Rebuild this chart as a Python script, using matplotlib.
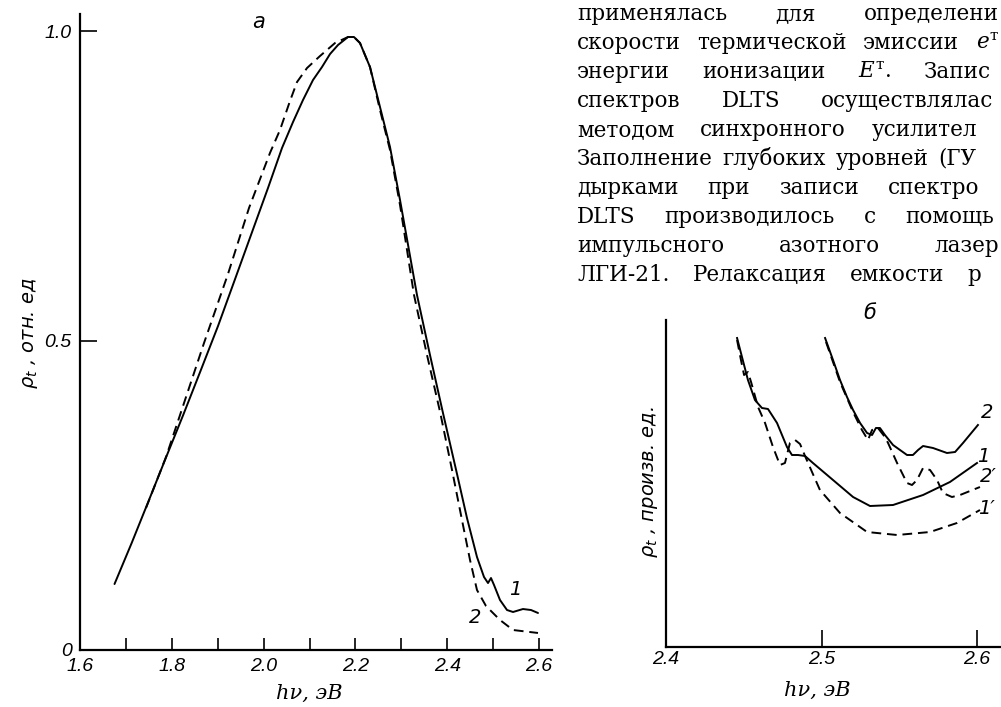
import matplotlib
matplotlib.use("Agg")
import matplotlib.pyplot as plt

W, H = 1001, 707

# ---------------- Panel a data ----------------
a_x1 = [1.6752, 1.7126, 1.7503, 1.7878, 1.8248, 1.8634, 1.9007, 1.9379, 1.9749, 2.0096,
        2.0401, 2.0641, 2.0858, 2.1076, 2.1272, 2.1447, 2.1621, 2.1839, 2.1969, 2.2100,
        2.2318, 2.2536, 2.2754, 2.2972, 2.3342, 2.3625, 2.3908, 2.4214, 2.4431, 2.4649,
        2.4802, 2.4889, 2.4954, 2.5020, 2.5150, 2.5303, 2.5434, 2.5651, 2.5826, 2.5978]
a_y1 = [0.1066, 0.1729, 0.2423, 0.3118, 0.3796, 0.4524, 0.5234, 0.5994, 0.6753, 0.7464,
        0.8110, 0.8530, 0.8885, 0.9208, 0.9418, 0.9628, 0.9774, 0.9903, 0.9903, 0.9806,
        0.9418, 0.8772, 0.8126, 0.7270, 0.5735, 0.4766, 0.3829, 0.2843, 0.2132, 0.1502,
        0.1179, 0.1082, 0.1163, 0.1050, 0.0808, 0.0646, 0.0614, 0.0662, 0.0646, 0.0598]

a_x2 = [1.7438, 1.7874, 1.8179, 1.8702, 1.9224, 1.9682, 2.0139, 2.0357, 2.0575, 2.0728,
        2.0946, 2.1229, 2.1556, 2.1839, 2.1969, 2.2100, 2.2318, 2.2536, 2.2754, 2.2972,
        2.3277, 2.3560, 2.3845, 2.4105, 2.4344, 2.4497, 2.4649, 2.4845, 2.5150, 2.5434,
        2.5978]
a_y2 = [0.2294, 0.3118, 0.3796, 0.4960, 0.6074, 0.7141, 0.8030, 0.8401, 0.8869, 0.9176,
        0.9402, 0.9596, 0.9806, 0.9903, 0.9903, 0.9806, 0.9418, 0.8724, 0.8078, 0.7189,
        0.5735, 0.4766, 0.3845, 0.2908, 0.2019, 0.1454, 0.0969, 0.0711, 0.0485, 0.0323,
        0.0275]

a_xticks = [1.6, 1.8, 2.0, 2.2, 2.4, 2.6]
a_xticklabels = ["1.6", "1.8", "2.0", "2.2", "2.4", "2.6"]
a_xminor = [1.7, 1.9, 2.1, 2.3, 2.5]
a_yticks = [0.0, 0.5, 1.0]
a_yticklabels = ["0", "0.5", "1.0"]

# ---------------- Panel b data ----------------
b_x1 = [2.4457, 2.4527, 2.4572, 2.4617, 2.4656, 2.4714, 2.4778, 2.4810, 2.4849, 2.4894,
        2.4945, 2.5074, 2.5203, 2.5312, 2.5460, 2.5653, 2.5826, 2.6000]
b_y1 = [3.09, 2.67, 2.47, 2.39, 2.38, 2.24, 2.00, 1.92, 1.92, 1.91,
        1.84, 1.67, 1.50, 1.41, 1.42, 1.52, 1.65, 1.84]

b_x1d = [2.4457, 2.4482, 2.4502, 2.4527, 2.4547, 2.4592, 2.4637, 2.4688, 2.4733, 2.4765,
         2.4797, 2.4830, 2.4862, 2.4894, 2.4939, 2.4990, 2.5119, 2.5293, 2.5486, 2.5698,
         2.5871, 2.6019]
b_y1d = [3.07, 2.87, 2.72, 2.75, 2.65, 2.40, 2.24, 2.00, 1.82, 1.84,
         2.04, 2.07, 2.03, 1.91, 1.75, 1.57, 1.34, 1.15, 1.12, 1.15,
         1.24, 1.37]

b_x2 = [2.5023, 2.5074, 2.5119, 2.5164, 2.5203, 2.5248, 2.5293, 2.5325, 2.5350, 2.5376,
        2.5408, 2.5460, 2.5550, 2.5588, 2.5621, 2.5653, 2.5717, 2.5807, 2.5859, 2.5910,
        2.6006]
b_y2 = [3.09, 2.87, 2.67, 2.50, 2.37, 2.24, 2.14, 2.12, 2.19, 2.19,
        2.12, 2.02, 1.92, 1.92, 1.97, 2.01, 1.99, 1.94, 1.95, 2.04,
        2.22]

b_x2d = [2.5029, 2.5119, 2.5203, 2.5260, 2.5299, 2.5325, 2.5363, 2.5408, 2.5428, 2.5486,
         2.5550, 2.5582, 2.5614, 2.5653, 2.5698, 2.5743, 2.5781, 2.5839, 2.5891, 2.6019]
b_y2d = [3.05, 2.65, 2.35, 2.17, 2.07, 2.17, 2.19, 2.10, 2.04, 1.84,
         1.64, 1.62, 1.67, 1.79, 1.77, 1.67, 1.54, 1.50, 1.52, 1.60]

b_xticks = [2.4, 2.5, 2.6]
b_xticklabels = ["2.4", "2.5", "2.6"]

# ---------------- Text block (justified lines; last word start x in px) ----------------
text_lines = [
    ["применялась", "для", "определени"],
    ["скорости", "термической", "эмиссии", r"$e^{\mathrm{т}}$"],
    ["энергии", "ионизации", r"$E^{\mathrm{т}}$.", "Запис"],
    ["спектров", "DLTS", "осуществлялас"],
    ["методом", "синхронного", "усилител"],
    ["Заполнение", "глубоких", "уровней", "(ГУ"],
    ["дырками", "при", "записи", "спектро"],
    ["DLTS", "производилось", "с", "помощь"],
    ["импульсного", "азотного", "лазер"],
    ["ЛГИ-21.", "Релаксация", "емкости", "р"],
]
last_word_x = [864, 978, 924, 821, 872, 938, 888, 905, 941, 967]
text_x0, line_y0, line_dy = 577, 14, 29

plt.rcParams['mathtext.fontset'] = 'dejavusans'

fig = plt.figure(figsize=(W / 100, H / 100), dpi=100)
fig.patch.set_facecolor("white")


def fxy(px, py):
    return px / W, 1 - py / H


tick_font = dict(family=["Liberation Sans Narrow", "Liberation Sans", "DejaVu Sans"],
                 style="italic", size=14)
lw = 1.4
dash = (0, (5, 3))

# ---------------- Panel a ----------------
ax = fig.add_axes([80 / W, 1 - 650 / H, (552 - 80) / W, (650 - 14) / H])
ax.plot(a_x1, a_y1, color="black", lw=lw, solid_capstyle="round")
ax.plot(a_x2, a_y2, color="black", lw=lw, linestyle=dash)
ax.set_xlim(1.6, 1.6 + 472 / 459)
ax.set_ylim(0, 636 / 619)
for s in ("top", "right"):
    ax.spines[s].set_visible(False)
for s in ("left", "bottom"):
    ax.spines[s].set_linewidth(1.6)
ax.set_xticks(a_xticks)
ax.set_xticklabels(a_xticklabels, fontdict=tick_font)
ax.set_xticks(a_xminor, minor=True)
ax.set_yticks(a_yticks)
ax.set_yticklabels(a_yticklabels, fontdict=tick_font)
ax.tick_params(axis="x", which="both", direction="in", length=9, width=1.2, pad=6)
ax.tick_params(axis="y", which="both", direction="in", length=12, width=1.2, pad=6)
ax.text(2.548, 0.097, "1", fontsize=14, style="italic", ha="center", va="center")
ax.text(2.461, 0.052, "2", fontsize=14, style="italic", ha="center", va="center")

fig.text(*fxy(30, 333), r"$\rho_t$ , отн. ед", rotation=90, ha="center", va="center",
         fontsize=14, style="italic")
fig.text(*fxy(309, 693), "hν, эВ", ha="center", va="center", fontsize=15,
         family="DejaVu Serif", style="italic")
fig.text(*fxy(259, 22), "а", ha="center", va="center", fontsize=15, style="italic")

# ---------------- Panel b ----------------
bx = fig.add_axes([666 / W, 1 - 647 / H, (1001 - 666) / W, (647 - 320) / H])
bx.plot(b_x1, b_y1, color="black", lw=lw)
bx.plot(b_x1d, b_y1d, color="black", lw=lw, linestyle=dash)
bx.plot(b_x2, b_y2, color="black", lw=lw)
bx.plot(b_x2d, b_y2d, color="black", lw=lw, linestyle=dash)
bx.set_xlim(2.4, 2.4 + 335 / 1555)
bx.set_ylim(0, 3.27)
for s in ("top", "right"):
    bx.spines[s].set_visible(False)
for s in ("left", "bottom"):
    bx.spines[s].set_linewidth(1.6)
bx.set_xticks(b_xticks)
bx.set_xticklabels(b_xticklabels, fontdict=tick_font)
bx.set_yticks([])
bx.tick_params(axis="x", direction="in", length=12, width=1.2, pad=3)
for xv, yv, lab in [(2.6064, 2.34, "2"), (2.6039, 1.90, "1"),
                    (2.6075, 1.70, "2′"), (2.6060, 1.39, "1′")]:
    bx.text(xv, yv, lab, fontsize=14, style="italic", ha="center", va="center",
            clip_on=False)

fig.text(*fxy(651, 482), r"$\rho_t$ , произв. ед.", rotation=90, ha="center", va="center",
         fontsize=14, style="italic")
fig.text(*fxy(817, 690), "hν, эВ", ha="center", va="center", fontsize=15,
         family="DejaVu Serif", style="italic")
fig.text(*fxy(870, 313), "б", ha="center", va="center", fontsize=15, style="italic")

# ---------------- Text block (justified) ----------------
renderer = fig.canvas.get_renderer()
for i, words in enumerate(text_lines):
    y = line_y0 + i * line_dy
    objs = []
    for w in words:
        t = fig.text(0, 0, w, ha="left", va="center", fontsize=15.5,
                     family="DejaVu Serif", math_fontfamily="dejavuserif")
        objs.append(t)
    widths = [t.get_window_extent(renderer).width for t in objs]
    x_last = min(last_word_x[i], 999 - widths[-1])
    gap = (x_last - text_x0 - sum(widths[:-1])) / (len(words) - 1)
    x = text_x0
    for t, wd in zip(objs, widths):
        t.set_position(fxy(x, y))
        x += wd + gap

fig.savefig("out.png", dpi=100, facecolor="white")
